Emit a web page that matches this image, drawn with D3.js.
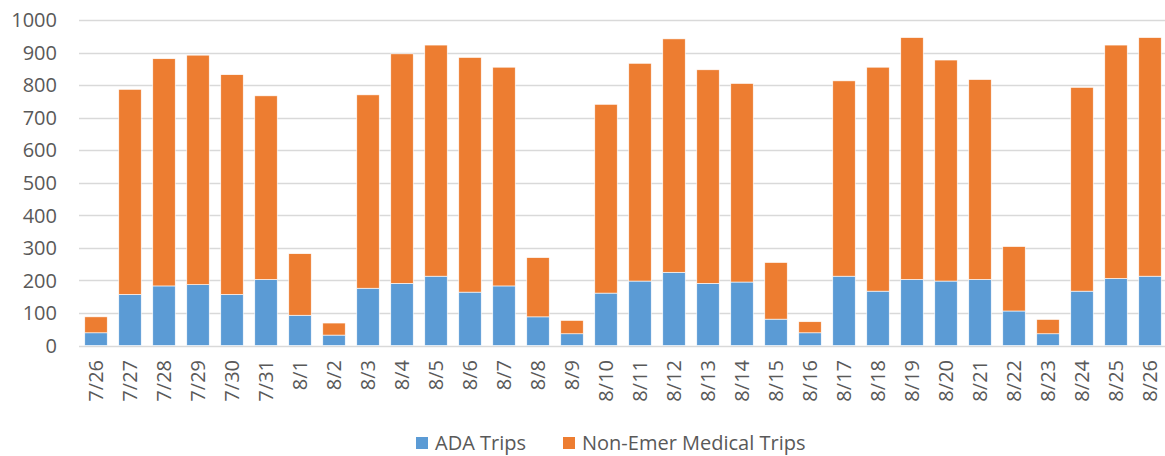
<!DOCTYPE html>
<html lang="en">
<head>
<meta charset="utf-8">
<title>trips</title>
<script src="https://d3js.org/d3.v7.min.js"></script>
<style>
html,body {padding:0; margin:0; background:#fff;}
svg {display:block; font-family:"Open Sans", sans-serif;}
</style>
</head>
<body>
<script>
// data
var days = ['7/26','7/27','7/28','7/29','7/30','7/31','8/1','8/2','8/3','8/4','8/5','8/6','8/7','8/8','8/9','8/10',
            '8/11','8/12','8/13','8/14','8/15','8/16','8/17','8/18','8/19','8/20','8/21','8/22','8/23','8/24','8/25','8/26']
var adaTrips = [39,157,183,187,157,203,93,32,176,191,213,164,183,88,36,161,
                198,225,191,195,81,39,213,167,203,198,203,106,36,167,206,213]
var medicalTrips = [49,630,698,705,675,564,189,37,594,705,710,721,672,182,41,580,
                    669,717,656,610,174,34,600,688,743,679,614,198,44,626,717,733]
var yTicks = [0,100,200,300,400,500,600,700,800,900,1000]
var seriesNames = ['ADA Trips','Non-Emer Medical Trips']
var colors = ['#5B9BD5','#ED7D31']

var W = 1165, H = 456

var svg = d3.select('body').append('svg').attr('width', W).attr('height', H)

var x = d3.scaleBand().domain(days).range([79, 1167]).paddingInner(0.34).paddingOuter(0.17)
var y = d3.scaleLinear().domain([0, 1000]).range([345.5, 20])

// gridlines
svg.append('g').selectAll('line').data(yTicks).join('line')
  .attr('x1', 79).attr('x2', W)
  .attr('y1', function(d){return Math.round(y(d)) + 0.5}).attr('y2', function(d){return Math.round(y(d)) + 0.5})
  .attr('stroke', '#d9d9d9').attr('stroke-width', 1.3)

// y labels
svg.append('g').selectAll('text').data(yTicks).join('text')
  .attr('x', 57).attr('y', function(d){return y(d)}).attr('dy', '0.36em')
  .attr('text-anchor', 'end').attr('font-size', 20).attr('fill', '#595959')
  .text(function(d){return d})

// stacked bars
var rows = days.map(function(d, i){return {day:d, ada:adaTrips[i], med:medicalTrips[i]}})
var stack = d3.stack().keys(['ada','med'])(rows)

svg.append('g').selectAll('g').data(stack).join('g')
  .attr('fill', function(d, i){return colors[i]})
  .selectAll('rect').data(function(d){return d}).join('rect')
    .attr('x', function(d){return x(d.data.day)})
    .attr('width', x.bandwidth())
    .attr('y', function(d){return y(d[1])})
    .attr('height', function(d){return y(d[0]) - y(d[1])})
    .attr('stroke', '#fff').attr('stroke-width', 0.6)

// x labels, rotated
svg.append('g').selectAll('text').data(days).join('text')
  .attr('transform', function(d){return 'translate(' + (x(d) + x.bandwidth()/2) + ',360) rotate(-90)'})
  .attr('dy', '0.36em')
  .attr('text-anchor', 'end').attr('font-size', 20).attr('fill', '#595959')
  .text(function(d){return d})

// legend
var lx = [416, 563]
var leg = svg.append('g').selectAll('g').data(seriesNames).join('g')
  .attr('transform', function(d, i){return 'translate(' + lx[i] + ',0)'})
leg.append('rect').attr('x', 0).attr('y', 437).attr('width', 12).attr('height', 12)
  .attr('fill', function(d, i){return colors[i]})
leg.append('text').attr('x', 19).attr('y', 450).attr('font-size', 20).attr('fill', '#595959')
  .text(function(d){return d})
</script>
</body>
</html>
